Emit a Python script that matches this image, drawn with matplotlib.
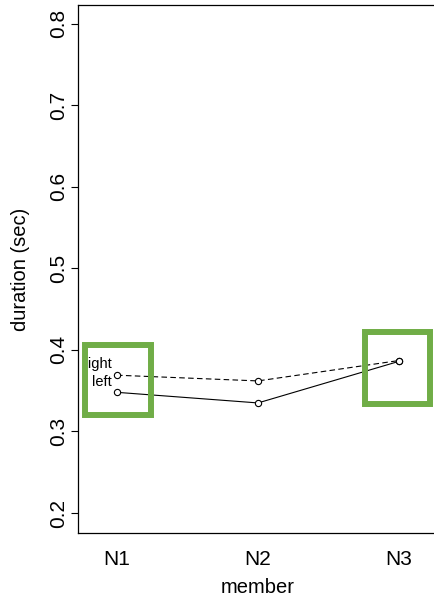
import matplotlib.pyplot as plt
from matplotlib.patches import Rectangle

plt.rcParams['font.family'] = ['Liberation Sans', 'DejaVu Sans']

members = ["N1", "N2", "N3"]
right = [0.369, 0.362, 0.387]
left = [0.348, 0.335, 0.386]
yticks = [0.2, 0.3, 0.4, 0.5, 0.6, 0.7, 0.8]

fig = plt.figure(figsize=(4.34, 5.98), dpi=100)
ax = fig.add_axes([78/434, 1-533/598, 360/434, 528/598])

x = list(range(1, len(members)+1))
ax.plot(x, right, color='black', lw=0.8, ls=(0, (5, 3)), marker='o', ms=4.5,
        mfc='white', mec='black', mew=0.8)
ax.plot(x, left, color='black', lw=0.8, ls='-', marker='o', ms=4.5,
        mfc='white', mec='black', mew=0.8)

ax.set_xlim(0.723, 3.277)
ax.set_ylim(0.1755, 0.823)
ax.set_xticks(x)
ax.set_xticklabels(members, fontsize=15)
ax.set_yticks(yticks)
ax.set_yticklabels([str(t) for t in yticks], rotation=90, va='center', fontsize=15)
ax.tick_params(axis='x', length=0, pad=12)
ax.tick_params(axis='y', length=5, width=0.8, pad=2)
for s in ax.spines.values():
    s.set_linewidth(0.9)

ax.set_xlabel("member", fontsize=14.5, va='center')
ax.set_ylabel("duration (sec)", fontsize=14.5, va='center')
ax.xaxis.set_label_coords(0.5, -0.104)
ax.yaxis.set_label_coords(-0.161, 0.5)

# legend labels (partly hidden behind the box like the original)
ax.text(0.965, 0.383, "right", ha='right', va='center', fontsize=10.5)
ax.text(0.965, 0.361, "left", ha='right', va='center', fontsize=10.5)

# green highlight boxes
green = '#70AD47'
ax.add_patch(Rectangle((0.776, 0.320), 0.462, 0.086, fill=False,
                       ec=green, lw=4.3, clip_on=False, zorder=5))
ax.add_patch(Rectangle((2.759, 0.334), 0.461, 0.088, fill=False,
                       ec=green, lw=4.3, clip_on=False, zorder=5))

plt.savefig("out.png", dpi=100)
